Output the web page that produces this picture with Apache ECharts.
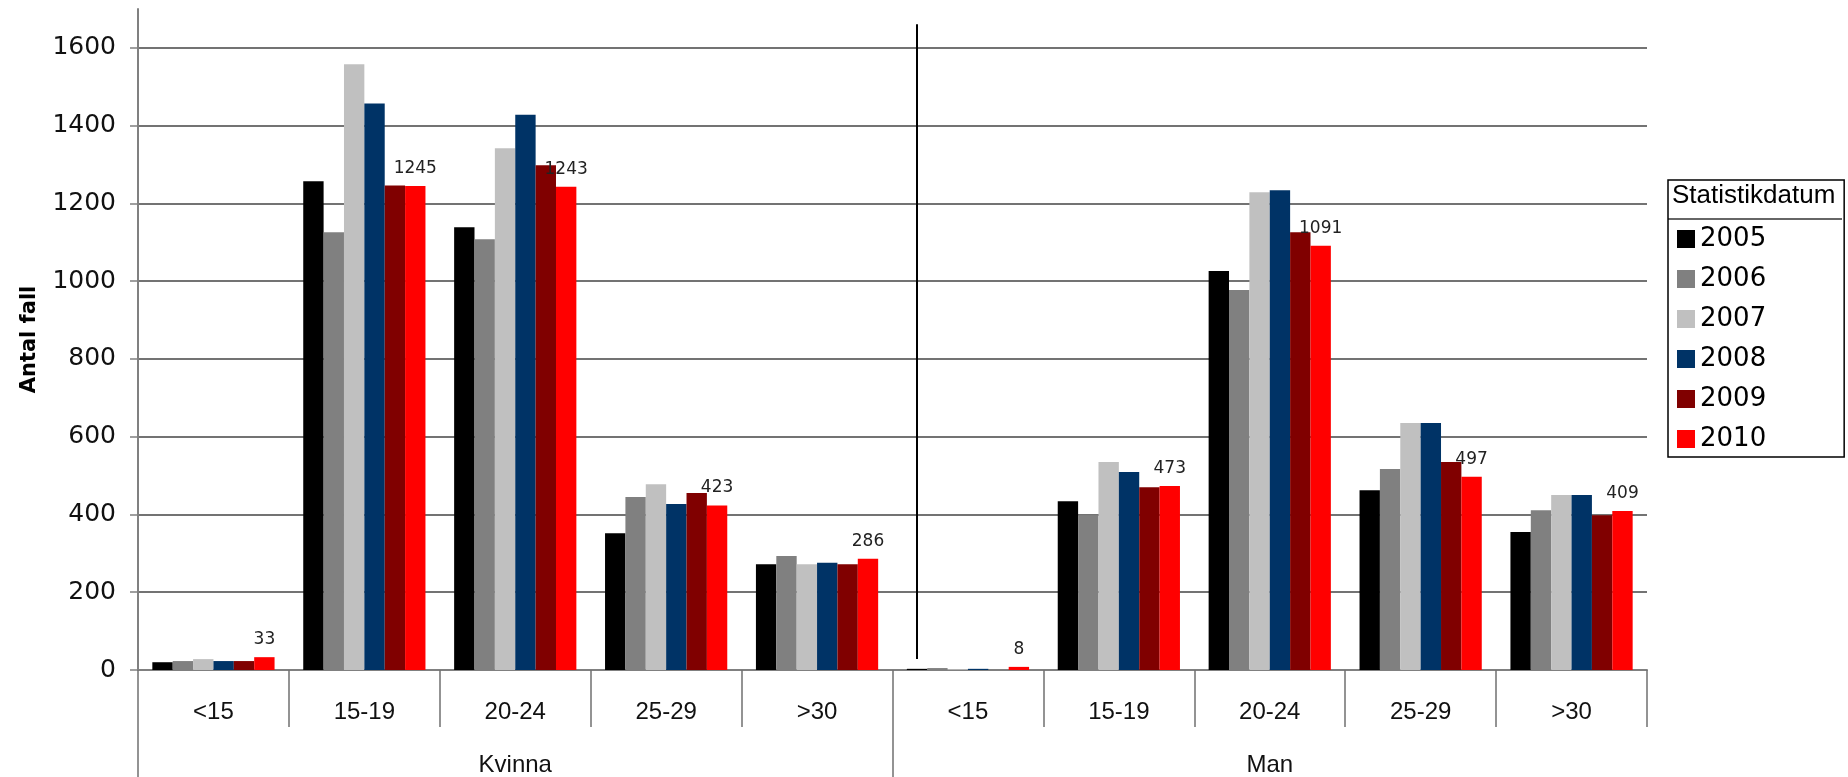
<!DOCTYPE html>
<html>
<head>
<meta charset="utf-8">
<script src="https://cdn.jsdelivr.net/npm/echarts@6/dist/echarts.min.js"></script>
<style>
html,body{margin:0;padding:0;background:#fff;}
#chart{width:1848px;height:777px;}
</style>
</head>
<body>
<div id="chart"></div>
<script>
// Categories
const ageGroups = ['<15', '15-19', '20-24', '25-29', '>30'];
const genders = ['Kvinna', 'Man'];
const categories = ['<15', '15-19', '20-24', '25-29', '>30', '<15 ', '15-19 ', '20-24 ', '25-29 ', '>30 '];
const years = ['2005', '2006', '2007', '2008', '2009', '2010'];
const colors = ['#000000', '#808080', '#C0C0C0', '#003366', '#800000', '#FF0000'];

// Values per year: Kvinna (5 age groups) then Man (5 age groups)
const v2005 = [20, 1257, 1139, 352, 272, 3, 434, 1026, 462, 355];
const v2006 = [23, 1126, 1108, 445, 293, 5, 398, 977, 517, 411];
const v2007 = [28, 1558, 1342, 478, 272, 2, 535, 1229, 635, 450];
const v2008 = [23, 1457, 1428, 427, 276, 3, 509, 1234, 635, 450];
const v2009 = [23, 1246, 1298, 455, 272, 0, 470, 1126, 535, 398];
const v2010 = [33, 1245, 1243, 423, 286, 8, 473, 1091, 497, 409];
const seriesValues = [v2005, v2006, v2007, v2008, v2009, v2010];

// Axis ticks
const yTicks = [0, 200, 400, 600, 800, 1000, 1200, 1400, 1600];
const yMax = 1700;
const yTitle = 'Antal fall';
const legendTitle = 'Statistikdatum';
const separatorPos = 5.16; // vertical divider line in category units
const separatorRange = [28, 1661];

const chart = echarts.init(document.getElementById('chart'), null, {renderer: 'canvas'});

const series = years.map((y, i) => ({
  name: y,
  type: 'bar',
  xAxisIndex: 0,
  yAxisIndex: 0,
  data: seriesValues[i],
  barGap: '0%',
  barCategoryGap: '19%',
  itemStyle: {color: colors[i]},
  emphasis: {disabled: true},
  label: i === years.length - 1 ? {
    show: true,
    position: 'top',
    distance: 9,
    fontFamily: 'DejaVu Sans',
    fontSize: 17,
    color: '#222'
  } : {show: false}
}));

series.push({
  type: 'scatter',
  xAxisIndex: 1,
  yAxisIndex: 0,
  data: [],
  silent: true,
  markLine: {
    silent: true,
    symbol: 'none',
    label: {show: false},
    lineStyle: {color: '#000', width: 2, type: 'solid'},
    data: [[{coord: [separatorPos, separatorRange[0]]}, {coord: [separatorPos, separatorRange[1]]}]]
  }
});

const splitColors = yTicks.map(() => '#444').concat(['rgba(0,0,0,0)']);

const option = {
  backgroundColor: '#fff',
  animation: false,
  title: {
    text: legendTitle,
    left: 1672,
    top: 183,
    padding: 0,
    textStyle: {fontFamily: 'Liberation Sans', fontSize: 26, fontWeight: 'normal', color: '#000'}
  },
  legend: {
    data: years,
    orient: 'vertical',
    left: 1668,
    top: 180,
    padding: [46, 78, 5, 9],
    itemWidth: 18,
    itemHeight: 18,
    itemGap: 14,
    icon: 'rect',
    borderColor: '#000',
    borderWidth: 1.5,
    textStyle: {fontFamily: 'DejaVu Sans', fontSize: 26, lineHeight: 26, color: '#000'}
  },
  graphic: [{
    type: 'line',
    shape: {x1: 1668, y1: 219, x2: 1842, y2: 219},
    style: {stroke: '#666', lineWidth: 2},
    silent: true
  }],
  grid: {left: 138, right: 201, top: 9, bottom: 107, containLabel: false},
  xAxis: [{
    type: 'category',
    data: categories,
    position: 'bottom',
    axisLine: {show: true, lineStyle: {color: '#808080', width: 2}},
    axisTick: {show: true, interval: 0, length: 57, lineStyle: {color: '#707070', width: 1.5}},
    axisLabel: {
      interval: 0,
      margin: 30,
      fontFamily: 'Liberation Sans',
      fontSize: 24,
      color: '#111',
      formatter: (v) => v.trim()
    },
    splitLine: {show: false}
  }, {
    type: 'value',
    min: 0,
    max: 10,
    position: 'bottom',
    axisLine: {show: false},
    splitLine: {show: false},
    axisTick: {show: true, customValues: [0, 5], length: 107, lineStyle: {color: '#707070', width: 1.5}},
    axisLabel: {
      show: true,
      customValues: [2.5, 7.5],
      margin: 83,
      fontFamily: 'Liberation Sans',
      fontSize: 24,
      color: '#111',
      formatter: (v) => genders[Math.floor(v / 5)]
    }
  }],
  yAxis: [{
    type: 'value',
    min: 0,
    max: yMax,
    interval: 200,
    name: yTitle,
    nameLocation: 'middle',
    nameGap: 98,
    nameRotate: 90,
    nameTextStyle: {fontFamily: 'DejaVu Sans', fontWeight: 'bold', fontSize: 21, color: '#000'},
    axisLine: {show: true, lineStyle: {color: '#808080', width: 2}},
    axisTick: {show: true, length: 8, customValues: yTicks, lineStyle: {color: '#808080', width: 1.5}},
    axisLabel: {
      customValues: yTicks,
      margin: 22,
      fontFamily: 'DejaVu Sans',
      fontSize: 25,
      color: '#111',
      formatter: (v) => String(v)
    },
    splitLine: {show: true, lineStyle: {color: splitColors, width: 1.5}}
  }],
  series: series
};

chart.setOption(option);
</script>
</body>
</html>
